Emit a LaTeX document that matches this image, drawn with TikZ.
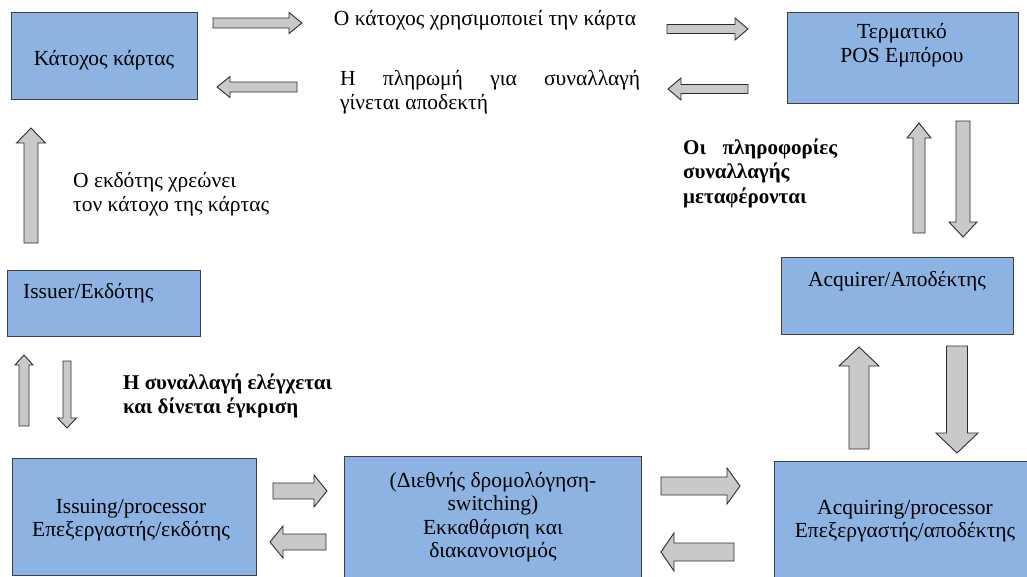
\documentclass[tikz,border=0pt]{standalone}
\usepackage{fontspec}
\setmainfont{Liberation Serif}
\usetikzlibrary{calc}

\definecolor{boxblue}{RGB}{141,179,226}
\definecolor{boxline}{RGB}{64,64,64}
\definecolor{arrowgray}{RGB}{200,201,203}
\definecolor{arrowline}{RGB}{45,45,45}

\tikzset{
  bshaft/.store in=\bshaft, bhead/.store in=\bhead, btip/.store in=\btip,
  bshaft=5pt, bhead=10pt, btip=13pt,
  box/.style={draw=boxline, fill=boxblue, line width=0.9pt, inner sep=0pt},
  lbl/.style={font=\fontsize{21.5}{23.5}\selectfont, align=center, inner sep=0pt},
  blbl/.style={font=\fontsize{21}{24.5}\selectfont\bfseries, align=left, inner sep=0pt},
  blockarrow/.style={draw=arrowline, fill=arrowgray, line width=0.9pt, line join=miter,
    to path={
      ($(\tikztostart)!\bshaft!90:(\tikztotarget)$)
      -- ($($(\tikztotarget)!\btip!(\tikztostart)$)!\bshaft!90:(\tikztotarget)$)
      -- ($($(\tikztotarget)!\btip!(\tikztostart)$)!\bhead!90:(\tikztotarget)$)
      -- (\tikztotarget)
      -- ($($(\tikztotarget)!\btip!(\tikztostart)$)!\bhead!-90:(\tikztotarget)$)
      -- ($($(\tikztotarget)!\btip!(\tikztostart)$)!\bshaft!-90:(\tikztotarget)$)
      -- ($(\tikztostart)!\bshaft!-90:(\tikztotarget)$) -- cycle}},
}

\begin{document}
\begin{tikzpicture}[x=1pt, y=-1pt]
  \useasboundingbox (0,0) rectangle (1027,576);

  % --- boxes ---
  \node[box, minimum width=186pt, minimum height=87pt]  (kat)  at (104,55.5)  {};
  \node[box, minimum width=231pt, minimum height=91pt]  (pos)  at (902.5,57.5) {};
  \node[box, minimum width=232pt, minimum height=77pt]  (acq)  at (897,295.5) {};
  \node[box, minimum width=193pt, minimum height=66pt]  (iss)  at (103.5,303) {};
  \node[box, minimum width=244pt, minimum height=117pt] (issp) at (134,516.5) {};
  \node[box, minimum width=297pt, minimum height=122pt] (mid)  at (492.5,517) {};
  \node[box, minimum width=256pt, minimum height=117pt] (acqp) at (902,519.5) {};

  % --- box texts ---
  \node[lbl] (katt)  at (104,60)  {Κάτοχος κάρτας};
  \node[lbl] (post)  at (902,45)  {Τερματικό\\POS Εμπόρου};
  \node[lbl] (acqt)  at (897,281) {Acquirer/Αποδέκτης};
  \node[lbl, anchor=west] (isst) at (23,293) {Issuer/Εκδότης};
  \node[lbl] (isspt) at (131,520) {Issuing/processor\\Επεξεργαστής/εκδότης};
  \node[lbl] (midt)  at (493,517) {(Διεθνής δρομολόγηση-\\switching)\\Εκκαθάριση και\\διακανονισμός};
  \node[lbl] (acqpt) at (905,521) {Acquiring/processor\\Επεξεργαστής/αποδέκτης};

  % --- free texts ---
  \node[lbl] (use) at (485,20) {Ο κάτοχος χρησιμοποιεί την κάρτα};
  \node[lbl, align=left, anchor=west] (pay) at (340,92)
    {\makebox[300pt][s]{Η πληρωμή για συναλλαγή}\\γίνεται αποδεκτή};
  \node[lbl, align=left, anchor=west] (debit) at (73,194)
    {Ο εκδότης χρεώνει\\τον κάτοχο της κάρτας};
  \node[blbl, anchor=west] (info) at (683,173)
    {\makebox[154pt][s]{Οι πληροφορίες}\\συναλλαγής\\μεταφέρονται};
  \node[blbl, anchor=west] (check) at (123,396)
    {Η συναλλαγή ελέγχεται\\και δίνεται έγκριση};

  % --- arrow ends ---
  \coordinate (u1s) at (213,23);  \coordinate (u1e) at (302,23);
  \coordinate (p1s) at (297,87);  \coordinate (p1e) at (217,87);
  \coordinate (u2s) at (667,29);  \coordinate (u2e) at (748,29);
  \coordinate (p2s) at (748,89);  \coordinate (p2e) at (668,89);
  \coordinate (i1s) at (919,233); \coordinate (i1e) at (919,123);
  \coordinate (i2s) at (963,121); \coordinate (i2e) at (963,237);
  \coordinate (a1s) at (859,449); \coordinate (a1e) at (859,347);
  \coordinate (a2s) at (957,346); \coordinate (a2e) at (957,453);
  \coordinate (d1s) at (31,243);  \coordinate (d1e) at (31,128);
  \coordinate (c1s) at (24,426);  \coordinate (c1e) at (24,355);
  \coordinate (c2s) at (67,361);  \coordinate (c2e) at (67,428);
  \coordinate (l1s) at (273,491); \coordinate (l1e) at (327,491);
  \coordinate (l2s) at (326,542); \coordinate (l2e) at (270,542);
  \coordinate (r1s) at (661,486); \coordinate (r1e) at (740,486);
  \coordinate (r2s) at (734,552); \coordinate (r2e) at (661,552);

  % --- block arrows ---
  \draw[blockarrow, bshaft=5pt, bhead=10.5pt, btip=13pt] (u1s) to (u1e);
  \draw[blockarrow, bshaft=5pt, bhead=10.5pt, btip=13pt] (p1s) to (p1e);
  \draw[blockarrow, bshaft=4.5pt, bhead=11pt, btip=13pt] (u2s) to (u2e);
  \draw[blockarrow, bshaft=4.5pt, bhead=11pt, btip=13pt] (p2s) to (p2e);
  \draw[blockarrow, bshaft=6pt, bhead=12pt, btip=15pt] (i1s) to (i1e);
  \draw[blockarrow, bshaft=7pt, bhead=14pt, btip=15pt] (i2s) to (i2e);
  \draw[blockarrow, bshaft=10pt, bhead=20pt, btip=19pt] (a1s) to (a1e);
  \draw[blockarrow, bshaft=10.5pt, bhead=21pt, btip=20pt] (a2s) to (a2e);
  \draw[blockarrow, bshaft=7pt, bhead=14.5pt, btip=15pt] (d1s) to (d1e);
  \draw[blockarrow, bshaft=5pt, bhead=9pt, btip=10pt] (c1s) to (c1e);
  \draw[blockarrow, bshaft=4pt, bhead=9.5pt, btip=10pt] (c2s) to (c2e);
  \draw[blockarrow, bshaft=8pt, bhead=16pt, btip=13pt] (l1s) to (l1e);
  \draw[blockarrow, bshaft=8pt, bhead=16pt, btip=13pt] (l2s) to (l2e);
  \draw[blockarrow, bshaft=9pt, bhead=18pt, btip=13pt] (r1s) to (r1e);
  \draw[blockarrow, bshaft=9pt, bhead=19pt, btip=13pt] (r2s) to (r2e);

\end{tikzpicture}
\end{document}
